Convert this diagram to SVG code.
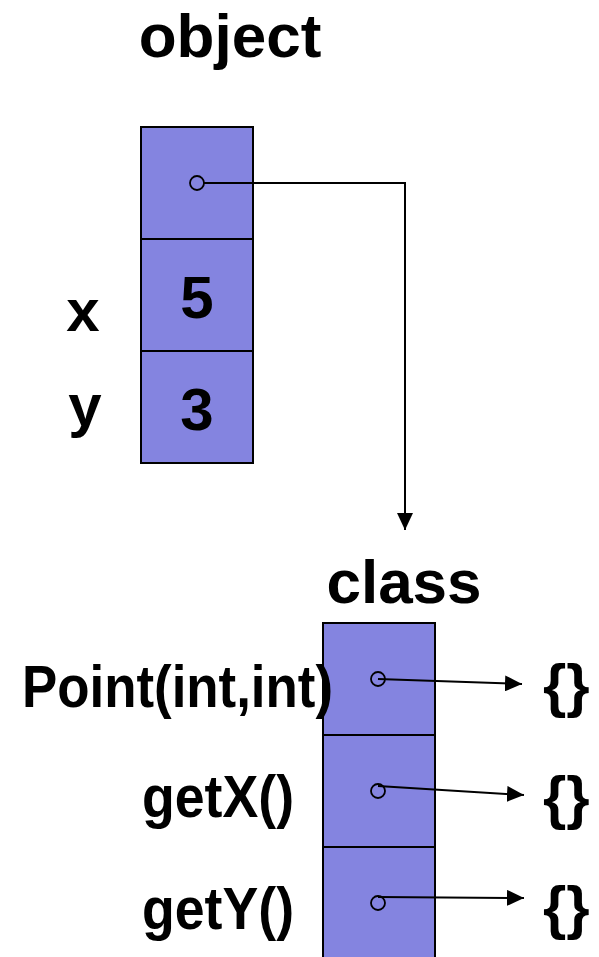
<svg xmlns="http://www.w3.org/2000/svg" width="599" height="957" viewBox="0 0 599 957">
<style>
.cell{fill:#8484e0;stroke:#000;stroke-width:2}
.t{font-family:"Liberation Sans",Arial,sans-serif;font-weight:bold;fill:#000}
.h{font-size:62px}
.l{font-size:60px}
.ptr{fill:none;stroke:#000;stroke-width:1.8}
.c{fill:none;stroke:#000;stroke-width:2}
</style>
<defs>
<marker id="ah" markerUnits="userSpaceOnUse" markerWidth="17" markerHeight="16" refX="17" refY="8" orient="auto">
<path d="M0,0 L17,8 L0,16 z" fill="#000"/>
</marker>
</defs>
<rect width="599" height="957" fill="#fff"/>
<g id="object">
<text class="t h" x="230" y="57" text-anchor="middle">object</text>
<rect class="cell" x="141" y="127" width="112" height="112"/>
<rect class="cell" x="141" y="239" width="112" height="112"/>
<rect class="cell" x="141" y="351" width="112" height="112"/>
<text class="t l" x="197" y="318" text-anchor="middle">5</text>
<text class="t l" x="197" y="430" text-anchor="middle">3</text>
<text class="t l" x="83" y="331" text-anchor="middle">x</text>
<text class="t l" x="85" y="426" text-anchor="middle">y</text>
</g>
<g id="class">
<text class="t h" x="404" y="603" text-anchor="middle">class</text>
<rect class="cell" x="323" y="623" width="112" height="112"/>
<rect class="cell" x="323" y="735" width="112" height="112"/>
<rect class="cell" x="323" y="847" width="112" height="112"/>
<text class="t l" x="22" y="707" textLength="311" lengthAdjust="spacingAndGlyphs">Point(int,int)</text>
<text class="t l" x="142" y="817" textLength="152" lengthAdjust="spacingAndGlyphs">getX()</text>
<text class="t l" x="142" y="929" textLength="152" lengthAdjust="spacingAndGlyphs">getY()</text>
</g>
<g id="bodies">
<text class="t l" x="543" y="706">{}</text>
<text class="t l" x="543" y="818">{}</text>
<text class="t l" x="543" y="928">{}</text>
</g>
<g id="connectors">
<circle class="ptr" cx="197" cy="183" r="7"/>
<polyline class="c" points="204,183 405,183 405,530" marker-end="url(#ah)"/>
<circle class="ptr" cx="378" cy="679" r="7"/>
<line class="c" x1="378" y1="679" x2="522" y2="684" marker-end="url(#ah)"/>
<circle class="ptr" cx="378" cy="791" r="7"/>
<line class="c" x1="378" y1="786" x2="524" y2="795" marker-end="url(#ah)"/>
<circle class="ptr" cx="378" cy="903" r="7"/>
<line class="c" x1="378" y1="897" x2="524" y2="898" marker-end="url(#ah)"/>
</g>
</svg>
